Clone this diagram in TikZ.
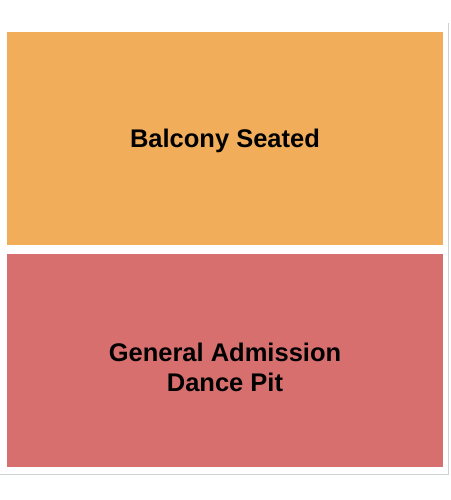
\documentclass[tikz,border=0pt]{standalone}
\usepackage{fontspec}
\setmainfont{Liberation Sans}
\usepackage{tikz}
\definecolor{balconyorange}{RGB}{242,173,91}
\definecolor{pitred}{RGB}{215,111,111}
\definecolor{framegray}{RGB}{205,210,210}
\tikzstyle{section} = [rectangle, minimum width=436pt, minimum height=213pt, inner sep=0pt, draw=none]
\tikzstyle{sectiontext} = [font=\bfseries\fontsize{25.5}{30}\selectfont, text=black, align=center, anchor=base, inner sep=0pt]
\tikzstyle{frameline} = [draw=framegray, line width=0.8pt]

\begin{document}
\begin{tikzpicture}[x=1pt, y=-1pt]
	\useasboundingbox (0,0) rectangle (450,500);
	\node (balcony) [section, fill=balconyorange] at (225,138.5) {};
	\node (pit) [section, fill=pitred] at (225,360.5) {};
	\node (balconytext) [sectiontext] at (225,147) {Balcony Seated};
	\node (pittext) [sectiontext] at (225,391) {General Admission\\Dance Pit};

	\coordinate (frametop) at (448.5,23);
	\coordinate (framecorner) at (448.5,474);
	\coordinate (frameleft) at (0,474);
	\draw [frameline] (frametop) -- (framecorner) -- (frameleft);

\end{tikzpicture}
\end{document}
